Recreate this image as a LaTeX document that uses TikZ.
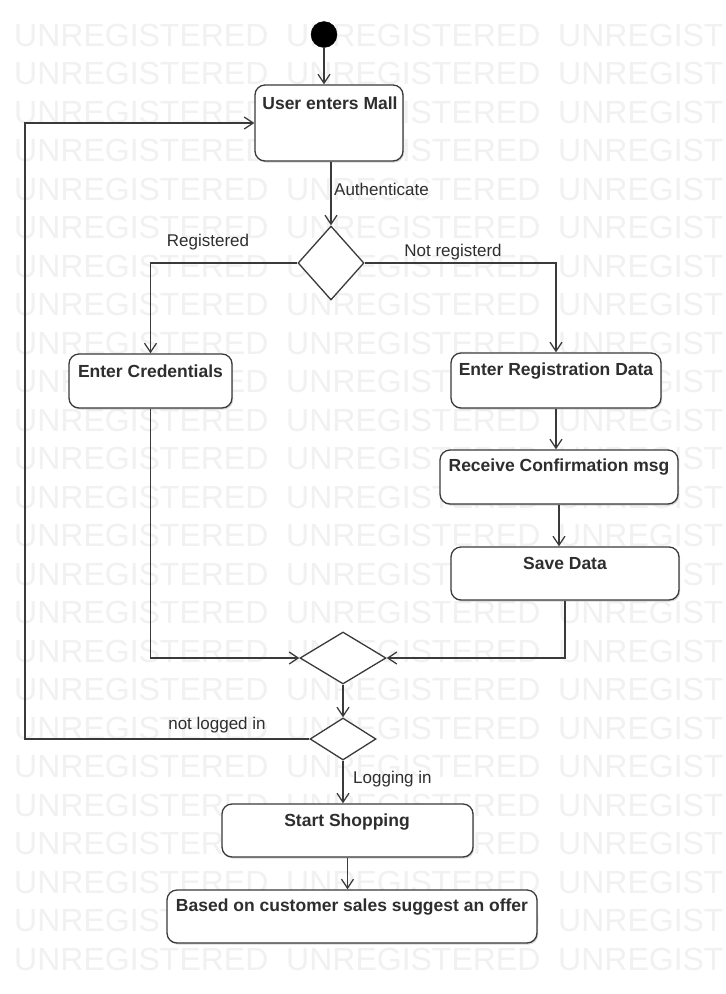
\documentclass[tikz,border=0pt]{standalone}
\usepackage{fontspec}
\setmainfont{Liberation Sans}
\usetikzlibrary{arrows.meta,shapes.geometric,shadows}
\definecolor{linec}{HTML}{3A3A3A}
\definecolor{txtc}{HTML}{2E2E2E}
\definecolor{wmc}{HTML}{F1F1F1}
\tikzset{
  wm/.style={font=\fontsize{32}{32}\selectfont, text=wmc, inner sep=0pt, anchor=west},
  act/.style={draw=linec, line width=1.3pt, rounded corners=10pt, fill=white,
    drop shadow={shadow xshift=1.2pt, shadow yshift=-1.6pt, fill=black!30}},
  btxt/.style={font=\bfseries\fontsize{17.5}{17.5}\selectfont, text=txtc, inner sep=0pt},
  lbl/.style={font=\fontsize{17}{17}\selectfont, text=txtc, inner sep=0pt},
  dia/.style={diamond, draw=linec, line width=1.3pt, fill=white, inner sep=0pt},
  arr/.style={draw=linec, line width=1.3pt, -{Straight Barb[length=9pt,width=12pt]}},
  ln/.style={draw=linec, line width=1.3pt},
}
\begin{document}
\begin{tikzpicture}[x=1pt,y=-1pt]
\useasboundingbox (0,0) rectangle (726,994);
\clip (0,0) rectangle (726,994);
\fill[white] (0,0) rectangle (726,994);
% watermark
\foreach \k in {0,...,24}{
  \foreach \c in {14,286,558}{
    \node[wm] (wm-\k-\c) at (\c,35+38.5*\k) {UNREGISTERED};
  }
}
% initial node
\node[circle, fill=black, draw=black, minimum size=26pt, inner sep=0pt] (init) at (324,34.5) {};
% activities
\node[act, minimum width=148pt, minimum height=76pt] (b1) at (329,123) {};
\node[btxt] (t1) at (330,103) {User enters Mall};
\node[act, minimum width=163pt, minimum height=54pt] (cred) at (150.5,381) {};
\node[btxt] (t2) at (150.5,371) {Enter Credentials};
\node[act, minimum width=210pt, minimum height=55pt] (reg) at (556,380.5) {};
\node[btxt] (t3) at (556,371) {Enter Registration Data};
\node[act, minimum width=238pt, minimum height=54pt] (rcv) at (559,477) {};
\node[btxt] (t4) at (559,467) {Receive Confirmation msg};
\node[act, minimum width=228pt, minimum height=53pt] (save) at (565,573.5) {};
\node[btxt] (t5) at (565,563) {Save Data};
\node[act, minimum width=251pt, minimum height=53pt] (shop) at (347.5,830.5) {};
\node[btxt] (t6) at (347,822) {Start Shopping};
\node[act, minimum width=370pt, minimum height=53pt] (offer) at (352,916.5) {};
\node[btxt] (t7) at (352,907) {Based on customer sales suggest an offer};
% decisions
\node[dia, minimum width=66pt, minimum height=74pt] (d1) at (331,263) {};
\node[dia, minimum width=86pt, minimum height=52pt] (d2) at (343,658) {};
\node[dia, minimum width=66pt, minimum height=42pt] (d3) at (343,739) {};
\coordinate (lp) at (25,0);
% connectors
\draw[arr] (init) -- (init |- b1.north);
\draw[arr] (b1.south -| d1.north) -- (d1.north);
\draw[arr] (d1.west) -| (cred.north);
\draw[arr] (d1.east) -| (reg.north);
\draw[arr] (reg.south) -- (reg.south |- rcv.north);
\draw[arr] (rcv.south) -- (rcv.south |- save.north);
\draw[arr] (cred.south) |- (d2.west);
\draw[arr] (save.south) |- (d2.east);
\draw[arr] (d2.south) -- (d3.north);
\draw[arr] (d3.west) -- (d3.west -| lp) |- (b1.west);
\draw[arr] (d3.south) -- (d3.south |- shop.north);
\draw[arr] (shop.south) -- (shop.south |- offer.north);
% labels
\node[lbl, anchor=west] (lauth) at (334,189) {Authenticate};
\node[lbl] (lreg) at (208,242) {Registered};
\node[lbl] (lnreg) at (453,252) {Not registerd};
\node[lbl] (lnot) at (217,725) {not logged in};
\node[lbl, anchor=west] (llog) at (353,779) {Logging in};
\end{tikzpicture}
\end{document}
